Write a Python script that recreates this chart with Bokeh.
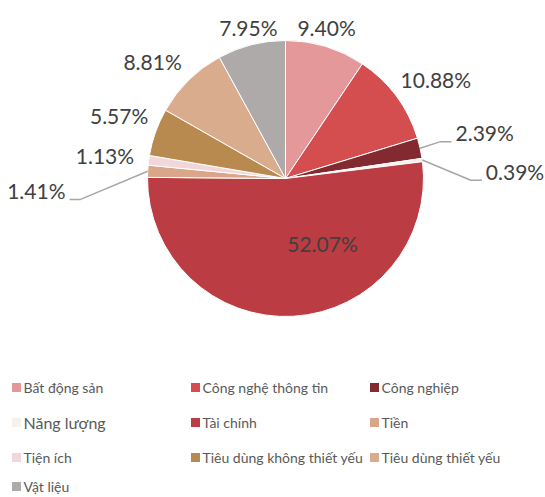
import math
from bokeh.plotting import figure
from bokeh.models import Range1d, ColumnDataSource
from bokeh.core.properties import value
from bokeh.embed import file_html
from bokeh.resources import INLINE

# ---- data ----
sectors = ["Bất động sản", "Công nghệ thông tin", "Công nghiệp", "Năng lượng",
           "Tài chính", "Tiền", "Tiện ích", "Tiêu dùng không thiết yếu",
           "Tiêu dùng thiết yếu", "Vật liệu"]
shares = [9.40, 10.88, 2.39, 0.39, 52.07, 1.41, 1.13, 5.57, 8.81, 7.95]
colors = ["#E59899", "#D44E4F", "#832A31", "#F7F1EE", "#BB3C43",
          "#D9A689", "#F2D7DA", "#B98A50", "#D9AC8E", "#AEAAAA"]
labels = [f"{v:.2f}%" for v in shares]

# ---- layout (screen px of the page) ----
W, H = 545, 497
def fx(rx): return rx
def fy(ry): return H - ry

CX, CY, R = 285, 178, 138
# label placement: (angle nudge deg, distance px, align, leader side)
lab_layout = [(-1.7, 156.5, "center", 0), (3.2, 180, "center", 0),
              (-2.4, 176.1, "left", 1), (5.6, 200.5, "left", 1),
              (-26.4, 74.8, "center", 0), (-6.1, 220.3, "right", -1),
              (-0.3, 182, "center", 0), (1.0, 177.8, "center", 0),
              (-4.2, 177, "center", 0), (0.5, 155.5, "center", 0)]

total = sum(shares)
starts, ends, mids = [], [], []
c = 0.0
for v in shares:
    c0 = c / total
    c += v
    c1 = c / total
    starts.append(math.pi / 2 - 2 * math.pi * c0)
    ends.append(math.pi / 2 - 2 * math.pi * c1)
    mids.append(360 * (c0 + c1) / 2)

p = figure(width=W, height=H, output_backend="svg", toolbar_location=None,
           x_range=Range1d(0, W), y_range=Range1d(0, H), min_border=0)
p.axis.visible = False
p.grid.visible = False
p.outline_line_color = None
p.background_fill_color = "white"

src = ColumnDataSource(dict(x=[fx(CX)] * len(shares), y=[fy(CY)] * len(shares),
                            s=starts, e=ends, c=colors))
p.wedge(x="x", y="y", radius=R, start_angle="s", end_angle="e", direction="clock",
        fill_color="c", line_color="white", line_width=1, source=src)

FONT = "Lato"
for i, lab in enumerate(labels):
    dang, dist, align, side = lab_layout[i]
    th = math.radians(mids[i] + dang)
    ax = CX + dist * math.sin(th)
    ay = CY - dist * math.cos(th)
    p.text(x=[fx(ax)], y=[fy(ay)], text=[lab], text_align=align,
           text_baseline="middle", text_font=value(FONT), text_font_size="21px",
           text_color="#404040")
    if side != 0:
        tm = math.radians(mids[i])
        ex, ey = CX + R * math.sin(tm), CY - R * math.cos(tm)
        endx, endy = ax - side * 4, ay + 9
        elbx = endx - side * 11
        p.line(x=[fx(ex), fx(elbx), fx(endx)], y=[fy(ey), fy(endy), fy(endy)],
               line_color="#A6A6A6", line_width=1.5)

# ---- legend ----
col_sq = [16, 195, 374]
col_tx = [23, 202, 381]
rows = [387, 422, 457, 486]
for i, name in enumerate(sectors):
    r, cidx = divmod(i, 3)
    ry = rows[r]
    p.rect(x=[fx(col_sq[cidx])], y=[fy(ry)], width=9, height=9,
           fill_color=colors[i], line_color=None)
    size = "16px" if name == "Năng lượng" else "14px"
    p.text(x=[fx(col_tx[cidx])], y=[fy(ry)], text=[name], text_align="left",
           text_baseline="middle", text_font=value(FONT), text_font_size=size,
           text_color="#595959")

open("out.html", "w").write(file_html(p, INLINE))
